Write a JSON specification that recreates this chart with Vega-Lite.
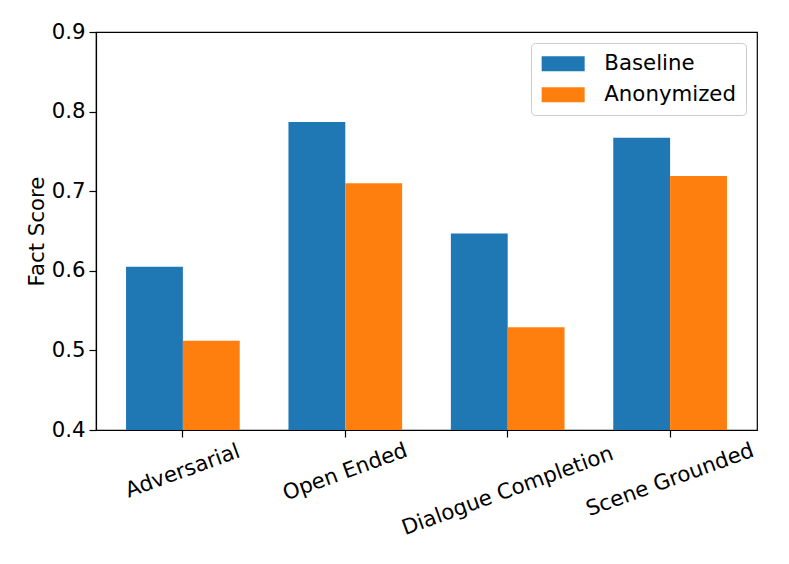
{
  "$schema": "https://vega.github.io/schema/vega-lite/v6.json",
  "width": 661,
  "height": 398,
  "autosize": {"type": "none"},
  "padding": {"left": 96, "top": 32, "right": 32, "bottom": 134},
  "background": "white",
  "config": {
    "font": "DejaVu Sans",
    "view": {"stroke": "black", "strokeWidth": 1.2},
    "axis": {
      "labelFont": "DejaVu Sans",
      "titleFont": "DejaVu Sans",
      "labelFontSize": 21.3,
      "titleFontSize": 21.3,
      "labelColor": "black",
      "titleColor": "black",
      "titleFontWeight": "normal",
      "domainColor": "black",
      "tickColor": "black",
      "tickSize": 7,
      "tickWidth": 1.2,
      "domainWidth": 1.2,
      "labelPadding": 4,
      "labelLimit": 500,
      "grid": false
    },
    "legend": {
      "labelFont": "DejaVu Sans",
      "labelFontSize": 21.3,
      "labelColor": "black",
      "labelLimit": 500
    }
  },
  "data": {
    "values": [
      {"category": "Adversarial", "method": "Baseline", "score": 0.605},
      {"category": "Adversarial", "method": "Anonymized", "score": 0.512},
      {"category": "Open Ended", "method": "Baseline", "score": 0.787},
      {"category": "Open Ended", "method": "Anonymized", "score": 0.710},
      {"category": "Dialogue Completion", "method": "Baseline", "score": 0.647},
      {"category": "Dialogue Completion", "method": "Anonymized", "score": 0.529},
      {"category": "Scene Grounded", "method": "Baseline", "score": 0.767},
      {"category": "Scene Grounded", "method": "Anonymized", "score": 0.719}
    ]
  },
  "mark": {"type": "bar", "clip": true},
  "encoding": {
    "x": {
      "field": "category",
      "type": "nominal",
      "sort": ["Adversarial", "Open Ended", "Dialogue Completion", "Scene Grounded"],
      "scale": {"paddingInner": 0.3, "paddingOuter": 0.185},
      "axis": {
        "title": null,
        "labelAngle": -20,
        "labelAlign": "center",
        "labelBaseline": "middle",
        "labelPadding": {
          "condition": [
            {"test": "datum.value == 'Adversarial'", "value": 34},
            {"test": "datum.value == 'Open Ended'", "value": 35},
            {"test": "datum.value == 'Dialogue Completion'", "value": 54}
          ],
          "value": 43
        }
      }
    },
    "xOffset": {
      "field": "method",
      "type": "nominal",
      "sort": ["Baseline", "Anonymized"],
      "scale": {"paddingInner": 0, "paddingOuter": 0}
    },
    "y": {
      "field": "score",
      "type": "quantitative",
      "scale": {"domain": [0.4, 0.9], "nice": false, "zero": false},
      "axis": {
        "title": "Fact Score",
        "values": [0.4, 0.5, 0.6, 0.7, 0.8, 0.9],
        "format": ".1f",
        "titlePadding": 4
      }
    },
    "color": {
      "field": "method",
      "type": "nominal",
      "sort": ["Baseline", "Anonymized"],
      "scale": {"domain": ["Baseline", "Anonymized"], "range": ["#1f77b4", "#ff7f0e"]},
      "legend": {
        "title": null,
        "orient": "top-right",
        "offset": 11,
        "fillColor": "white",
        "strokeColor": "#cccccc",
        "cornerRadius": 4,
        "padding": 10,
        "rowPadding": 9,
        "symbolType": "M-1,-0.75H3.3V0.75H-1Z",
        "symbolSize": 400,
        "symbolStrokeWidth": 0,
        "symbolOpacity": 1,
        "labelOffset": 42
      }
    }
  }
}
